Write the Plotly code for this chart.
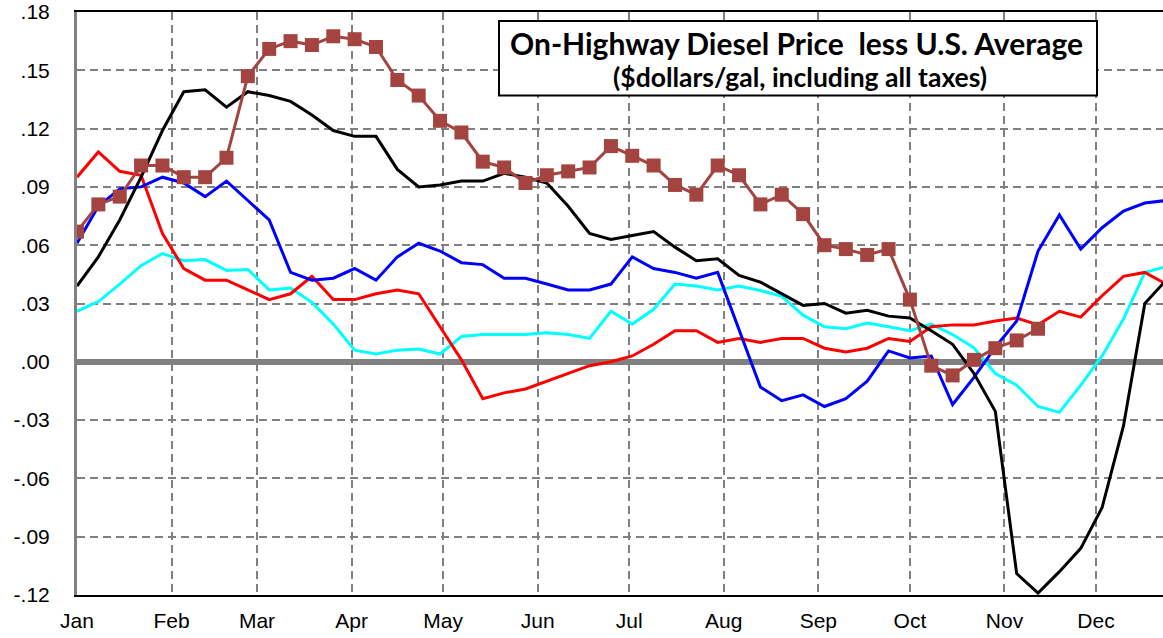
import pandas as pd
import plotly.graph_objects as go

# Weekly observation dates (first week of the year onward)
week_dates = pd.date_range("2023-01-01", periods=52, freq="7D")

brown_vals = [0.067, 0.081, 0.085, 0.101, 0.101, 0.095, 0.095, 0.105, 0.147, 0.161,
              0.165, 0.163, 0.1675, 0.166, 0.162, 0.145, 0.137, 0.124, 0.118, 0.103,
              0.100, 0.092, 0.096, 0.098, 0.100, 0.111, 0.106, 0.101, 0.091, 0.086,
              0.101, 0.096, 0.081, 0.086, 0.076, 0.060, 0.058, 0.055, 0.058, 0.032,
              -0.002, -0.007, 0.001, 0.007, 0.011, 0.017]

black_vals = [0.039, 0.054, 0.073, 0.095, 0.119, 0.139, 0.140, 0.131, 0.139, 0.137,
              0.134, 0.127, 0.119, 0.116, 0.116, 0.099, 0.090, 0.091, 0.093, 0.093,
              0.097, 0.095, 0.092, 0.080, 0.066, 0.063, 0.065, 0.067, 0.059, 0.052,
              0.053, 0.0445, 0.041, 0.035, 0.029, 0.030, 0.025, 0.0265, 0.0235, 0.0225,
              0.016, 0.009, -0.006, -0.0255, -0.109, -0.119, -0.108, -0.096, -0.075, -0.033,
              0.030, 0.042]

red_vals = [0.095, 0.108, 0.098, 0.096, 0.066, 0.048, 0.042, 0.042, 0.037, 0.032,
            0.035, 0.044, 0.032, 0.032, 0.035, 0.037, 0.035, 0.018, 0.001, -0.019,
            -0.016, -0.014, -0.010, -0.006, -0.002, 0.000, 0.003, 0.009, 0.016, 0.016,
            0.010, 0.012, 0.010, 0.012, 0.012, 0.007, 0.005, 0.007, 0.012, 0.0105,
            0.018, 0.019, 0.019, 0.021, 0.0225, 0.019, 0.026, 0.023, 0.034, 0.044,
            0.046, 0.040]

blue_vals = [0.061, 0.080, 0.089, 0.090, 0.095, 0.092, 0.085, 0.093, 0.083, 0.073,
             0.046, 0.042, 0.043, 0.048, 0.042, 0.054, 0.061, 0.057, 0.051, 0.050,
             0.043, 0.043, 0.040, 0.037, 0.037, 0.040, 0.054, 0.048, 0.046, 0.043,
             0.046, 0.017, -0.013, -0.020, -0.017, -0.023, -0.019, -0.010, 0.0056, 0.002,
             0.003, -0.022, -0.008, 0.0075, 0.021, 0.057, 0.0756, 0.058, 0.069, 0.0776,
             0.0817, 0.083]

cyan_vals = [0.026, 0.031, 0.040, 0.0495, 0.0557, 0.052, 0.0526, 0.047, 0.0475, 0.037,
             0.038, 0.0306, 0.0194, 0.006, 0.004, 0.006, 0.0066, 0.004, 0.013, 0.014,
             0.014, 0.014, 0.015, 0.014, 0.012, 0.026, 0.0194, 0.027, 0.040, 0.039,
             0.037, 0.039, 0.0367, 0.0337, 0.024, 0.018, 0.017, 0.020, 0.018, 0.016,
             0.0194, 0.014, 0.0072, -0.006, -0.012, -0.023, -0.026, -0.012, 0.003, 0.022,
             0.046, 0.049]

y_tick_vals = [-0.12, -0.09, -0.06, -0.03, 0.00, 0.03, 0.06, 0.09, 0.12, 0.15, 0.18]
y_tick_text = ["-.12", "-.09", "-.06", "-.03", ".00", ".03", ".06", ".09", ".12", ".15", ".18"]

title_line1 = "On-Highway Diesel Price\u00a0 less U.S. Average"
title_line2 = "($dollars/gal, including all taxes)"

fig = go.Figure()

series = [
    (cyan_vals, "#00FFFF"),
    (red_vals, "#FF0000"),
    (blue_vals, "#0000FF"),
    (black_vals, "#000000"),
]
for vals, col in series:
    fig.add_trace(go.Scatter(x=week_dates[:len(vals)], y=vals, mode="lines",
                             line=dict(color=col, width=3), showlegend=False))

fig.add_trace(go.Scatter(x=week_dates[:len(brown_vals)], y=brown_vals, mode="lines+markers",
                         line=dict(color="#A34441", width=3),
                         marker=dict(symbol="square", size=14, color="#A34441"),
                         showlegend=False))

fig.update_layout(
    width=1163, height=638,
    margin=dict(l=77, r=0, t=8, b=43),
    paper_bgcolor="white", plot_bgcolor="white",
    font=dict(family="Liberation Sans, Arial, sans-serif", size=21, color="black"),
)

fig.update_xaxes(
    type="date",
    range=["2023-01-01", "2023-12-22 23:00"],
    dtick="M1", tick0="2023-01-01", tickformat="%b",
    showgrid=True, gridcolor="#808080", gridwidth=2, griddash="8px,5px",
    showline=True, linecolor="black", linewidth=2, mirror=True,
    ticks="", ticklabelstandoff=6, ticklabeloverflow="allow",
    tickfont=dict(size=21, family="Liberation Sans, Arial, sans-serif"),
)
fig.update_yaxes(
    range=[-0.12, 0.18],
    tickvals=y_tick_vals, ticktext=y_tick_text,
    showgrid=True, gridcolor="#808080", gridwidth=2, griddash="8px,5px",
    zeroline=True, zerolinecolor="#808080", zerolinewidth=6,
    showline=True, linecolor="#808080", linewidth=3, mirror=False,
    ticks="", ticklabelstandoff=20, ticklabeloverflow="allow",
    tickfont=dict(size=21, family="Liberation Sans, Arial, sans-serif"),
)

# Title box
fig.add_shape(type="rect", xref="paper", yref="paper",
              x0=(499 - 77) / 1086, x1=(1097 - 77) / 1086,
              y0=(595 - 92) / 587, y1=(595 - 17) / 587,
              line=dict(color="black", width=2), fillcolor="white", layer="above")
fig.add_annotation(xref="paper", yref="paper", x=(796 - 77) / 1086, y=(595 - 39) / 587,
                   text="<b>" + title_line1 + "</b>", showarrow=False,
                   font=dict(family="Lato, Carlito, sans-serif", size=30, color="black"),
                   xanchor="center", yanchor="middle")
fig.add_annotation(xref="paper", yref="paper", x=(800 - 77) / 1086, y=(595 - 73) / 587,
                   text="<b>" + title_line2 + "</b>", showarrow=False,
                   font=dict(family="Lato, Carlito, sans-serif", size=26.5, color="black"),
                   xanchor="center", yanchor="middle")

fig.write_html("out.html", config={"displayModeBar": False},
               post_script="document.body.style.margin='0';")
